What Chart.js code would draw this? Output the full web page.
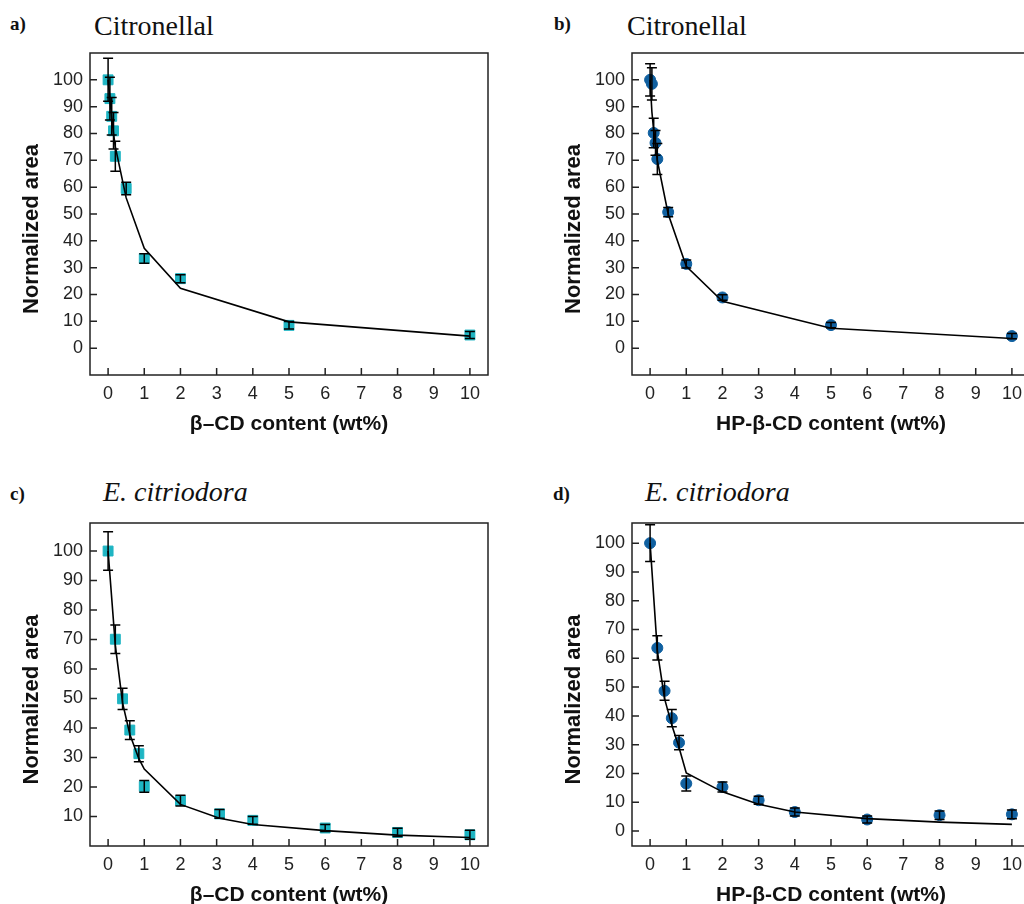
<!DOCTYPE html>
<html lang="en">
<head>
<meta charset="UTF-8">
<title>Normalized area vs cyclodextrin content</title>
<script src="https://cdn.jsdelivr.net/npm/chart.js@4.4.1/dist/chart.umd.min.js"></script>
<style>
  html, body { margin: 0; padding: 0; width: 1024px; height: 904px; overflow: hidden; background: #fff; }
  .panel { position: absolute; width: 510px; }
  .tag { position: absolute; font-family: "Liberation Serif", "Times New Roman", serif; font-weight: bold; font-size: 19px; line-height: 19px; color: #111; }
  .name { position: absolute; font-family: "Liberation Serif", "Times New Roman", serif; font-size: 28px; line-height: 28px; color: #111; white-space: nowrap; }
  .name.it { font-style: italic; }
</style>
</head>
<body>
<div class="tag" style="left:10px; top:14px;">a)</div>
<div class="name" style="left:94px; top:12px;">Citronellal</div>
<div class="tag" style="left:554px; top:14px;">b)</div>
<div class="name" style="left:627px; top:12px;">Citronellal</div>
<div class="tag" style="left:10px; top:484px;">c)</div>
<div class="name it" style="left:103px; top:478px;">E. citriodora</div>
<div class="tag" style="left:553px; top:484px;">d)</div>
<div class="name it" style="left:645px; top:478px;">E. citriodora</div>

<div class="panel" style="left:0; top:30px;"><canvas id="chartA" width="510" height="415"></canvas></div>
<div class="panel" style="left:542px; top:30px;"><canvas id="chartB" width="510" height="415"></canvas></div>
<div class="panel" style="left:0; top:500px;"><canvas id="chartC" width="510" height="416"></canvas></div>
<div class="panel" style="left:542px; top:500px;"><canvas id="chartD" width="510" height="416"></canvas></div>

<script>
// panel a: Citronellal, beta-CD
const xA   = [0, 0.05, 0.1, 0.15, 0.2, 0.5, 1, 2, 5, 10];
const yA   = [100, 93, 86.4, 81, 71.5, 59.5, 33.4, 25.9, 8.5, 4.9];
const errA = [8, 8, 7, 6.8, 5.6, 2.3, 1.8, 1.5, 1.4, 1.3];
const fitA = [100, 93, 86, 80, 75, 56, 37.2, 22.3, 9.8, 4.5];

// panel b: Citronellal, HP-beta-CD
const xB   = [0, 0.05, 0.1, 0.15, 0.2, 0.5, 1, 2, 5, 10];
const yB   = [100, 98.5, 80.2, 76.5, 70.5, 50.7, 31.4, 18.9, 8.6, 4.5];
const errB = [6, 6, 5.5, 4.6, 5.8, 1.7, 1.5, 1, 1, 1];
const fitB = [100, 88, 81, 76, 70, 50, 30.5, 17.5, 7.4, 3.6];

// panel c: E. citriodora, beta-CD
const xC   = [0, 0.2, 0.4, 0.6, 0.85, 1, 2, 3.08, 4, 6, 8, 10];
const yC   = [100, 70.1, 49.9, 39.3, 31.3, 20.2, 15.4, 10.9, 8.7, 6.1, 4.6, 3.8];
const errC = [6.5, 4.8, 3.6, 3.2, 2.7, 2, 1.8, 1.5, 1.3, 1.2, 1.4, 1.5];
const fitC = [100, 68, 48.5, 37.9, 29.6, 26.1, 14.1, 9.4, 7.3, 5.2, 3.7, 2.9];

// panel d: E. citriodora, HP-beta-CD
const xD   = [0, 0.2, 0.4, 0.6, 0.8, 1, 2, 3, 4, 6, 8, 10];
const yD   = [100, 63.6, 48.7, 39.2, 30.7, 16.5, 15.3, 10.7, 6.6, 4, 5.5, 5.8];
const errD = [6.4, 4.2, 3.3, 3, 2.5, 2.6, 1.7, 1.4, 1.4, 1.2, 1.5, 1.5];
const fitD = [100, 62.6, 46, 36.8, 29, 20.2, 13.6, 9.3, 6.6, 4.3, 3.1, 2.3];

const xTicks  = [0, 1, 2, 3, 4, 5, 6, 7, 8, 9, 10];
const yTicks  = [0, 10, 20, 30, 40, 50, 60, 70, 80, 90, 100];
const yTicksC = [10, 20, 30, 40, 50, 60, 70, 80, 90, 100];

const SANS = '"Liberation Sans", Arial, sans-serif';

// frame, inside tick marks, error bars and y title
const framePlugin = {
  id: 'frame',
  afterDatasetsDraw(chart) {
    const { ctx, chartArea: a, scales: { x, y } } = chart;
    const ds = chart.data.datasets[0];
    ctx.save();
    ctx.strokeStyle = '#000';
    ctx.lineWidth = 1.5;
    ds.errors.forEach((e, i) => {
      const p = ds.data[i];
      const px = x.getPixelForValue(p.x);
      const t = y.getPixelForValue(p.y + e);
      const b = y.getPixelForValue(p.y - e);
      ctx.beginPath();
      ctx.moveTo(px, t); ctx.lineTo(px, b);
      ctx.moveTo(px - 5, t); ctx.lineTo(px + 5, t);
      ctx.moveTo(px - 5, b); ctx.lineTo(px + 5, b);
      ctx.stroke();
    });

    ctx.strokeStyle = '#222';
    ctx.lineWidth = 1.5;
    ctx.strokeRect(a.left, a.top, a.right - a.left, a.bottom - a.top);
    ctx.beginPath();
    x.ticks.forEach(t => {
      const px = x.getPixelForValue(t.value);
      ctx.moveTo(px, a.bottom); ctx.lineTo(px, a.bottom - 7);
    });
    y.ticks.forEach(t => {
      const py = y.getPixelForValue(t.value);
      ctx.moveTo(a.left, py); ctx.lineTo(a.left + 7, py);
    });
    ctx.stroke();

    ctx.translate(a.left - 58, (a.top + a.bottom) / 2 + 15);
    ctx.rotate(-Math.PI / 2);
    ctx.fillStyle = '#111';
    ctx.font = 'bold 22px ' + SANS;
    ctx.textAlign = 'center';
    ctx.textBaseline = 'middle';
    ctx.fillText('Normalized area', 0, 0);
    ctx.restore();
  }
};

function makeChart(id, xs, ys, errs, fit, style, yMin, yMax, yT, xTitle) {
  const square = style === 'rect';
  new Chart(document.getElementById(id), {
    type: 'scatter',
    data: {
      datasets: [
        {
          data: xs.map((v, i) => ({ x: v, y: ys[i] })),
          errors: errs,
          pointStyle: style,
          pointRadius: square ? 7 : 5.5,
          backgroundColor: square ? '#1eb5c3' : '#1060a0',
          borderColor: square ? '#1eb5c3' : '#1060a0',
          borderWidth: 1,
          order: 2
        },
        {
          data: xs.map((v, i) => ({ x: v, y: fit[i] })),
          showLine: true,
          pointRadius: 0,
          borderColor: '#000',
          borderWidth: 1.6,
          order: 1
        }
      ]
    },
    options: {
      responsive: false,
      animation: false,
      layout: { padding: { top: 23, right: 22, left: 0, bottom: 0 } },
      plugins: { legend: { display: false }, tooltip: { enabled: false } },
      scales: {
        x: {
          type: 'linear', min: -0.5, max: 10.5,
          afterBuildTicks: s => { s.ticks = xTicks.map(v => ({ value: v })); },
          afterFit: s => { s.height = 70; },
          grid: { display: false, drawTicks: false },
          border: { display: false },
          ticks: { padding: 8, color: '#222', autoSkip: false, maxRotation: 0, font: { family: SANS, size: 18 } },
          title: { display: true, text: xTitle, color: '#111', padding: { top: 0, bottom: 8 }, font: { family: SANS, size: 21, weight: 'bold' } }
        },
        y: {
          type: 'linear', min: yMin, max: yMax,
          afterBuildTicks: s => { s.ticks = yT.map(v => ({ value: v })); },
          afterFit: s => { s.width = 90; },
          grid: { display: false, drawTicks: false },
          border: { display: false },
          ticks: { padding: 7, color: '#222', font: { family: SANS, size: 18 } }
        }
      }
    },
    plugins: [framePlugin]
  });
}

makeChart('chartA', xA, yA, errA, fitA, 'rect', -10, 110, yTicks, 'β–CD content (wt%)');
makeChart('chartB', xB, yB, errB, fitB, 'circle', -10, 110, yTicks, 'HP-β-CD content (wt%)');
makeChart('chartC', xC, yC, errC, fitC, 'rect', 0, 109.5, yTicksC, 'β–CD content (wt%)');
makeChart('chartD', xD, yD, errD, fitD, 'circle', -5.2, 107, yTicks, 'HP-β-CD content (wt%)');
</script>
</body>
</html>
